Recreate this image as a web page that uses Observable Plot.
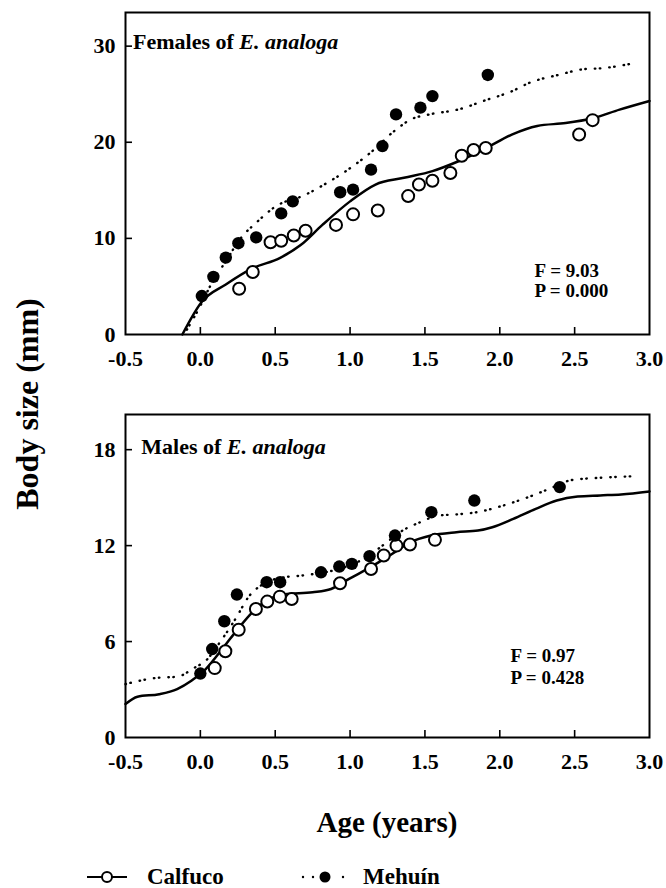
<!DOCTYPE html>
<html><head><meta charset="utf-8">
<script src="https://cdn.jsdelivr.net/npm/d3@7"></script>
<script src="https://cdn.jsdelivr.net/npm/@observablehq/plot@0.6"></script>
<style>
body{margin:0;background:#fff;}
#fig{position:relative;width:666px;height:888px;background:#fff;}
#fig > svg{position:absolute;left:0;}
</style></head><body><div id="fig"></div>
<script>
// ---------- data ----------
const xTicks = [-0.5, 0, 0.5, 1, 1.5, 2, 2.5, 3];
const femYTicks = [0, 10, 20, 30];
const maleYTicks = [0, 6, 12, 18];
const legendLabels = ["Calfuco", "Mehuín"];

// Females: [age, body size]
const femMehuinPts = [[0.01,4.0],[0.087,6.0],[0.17,8.0],[0.254,9.5],[0.373,10.1],[0.54,12.6],[0.617,13.85],[0.934,14.8],[1.02,15.07],[1.14,17.15],[1.216,19.6],[1.307,22.9],[1.47,23.6],[1.55,24.8],[1.92,27.0]];
const femCalfucoPts = [[0.259,4.76],[0.35,6.5],[0.469,9.6],[0.54,9.76],[0.624,10.3],[0.703,10.8],[0.906,11.4],[1.02,12.5],[1.185,12.9],[1.388,14.4],[1.46,15.6],[1.55,16.0],[1.67,16.8],[1.746,18.6],[1.825,19.2],[1.906,19.4],[2.53,20.8],[2.62,22.3]];
const femCalfucoCurve = [[-0.12,0],[0.01,3.4],[0.17,5.2],[0.35,6.9],[0.53,7.95],[0.67,9.3],[0.815,11.4],[1.0,13.85],[1.17,15.6],[1.36,16.3],[1.55,17.0],[1.72,18.0],[1.91,19.4],[2.08,20.8],[2.25,21.7],[2.44,22.0],[2.62,22.5],[2.8,23.4],[3.0,24.3]];
const femMehuinCurve = [[-0.09,0.5],[-0.02,2.4],[0.096,5.9],[0.17,7.6],[0.254,9.7],[0.385,11.8],[0.5,13.3],[0.696,14.5],[0.86,15.9],[1.0,17.3],[1.15,19.1],[1.29,21.1],[1.41,22.4],[1.53,22.9],[1.72,23.4],[1.91,24.4],[2.08,25.3],[2.2,26.2],[2.39,27.0],[2.56,27.6],[2.68,27.7],[2.92,28.3]];

// Males: [age, body size]
const maleMehuinPts = [[0.0,4.0],[0.079,5.53],[0.16,7.27],[0.244,8.94],[0.443,9.71],[0.533,9.71],[0.806,10.33],[0.928,10.69],[1.012,10.86],[1.13,11.34],[1.30,12.63],[1.543,14.09],[1.83,14.82],[2.40,15.66]];
const maleCalfucoPts = [[0.096,4.34],[0.167,5.39],[0.256,6.74],[0.371,8.04],[0.447,8.5],[0.531,8.81],[0.61,8.66],[0.933,9.65],[1.14,10.54],[1.225,11.38],[1.31,12.0],[1.40,12.07],[1.567,12.36]];
const maleCalfucoCurve = [[-0.5,2.09],[-0.42,2.55],[-0.275,2.71],[-0.155,3.03],[-0.06,3.55],[0.036,4.28],[0.155,5.64],[0.25,6.78],[0.347,7.83],[0.443,8.56],[0.56,8.94],[0.75,9.08],[0.873,9.29],[0.993,9.92],[1.136,10.65],[1.28,11.48],[1.40,12.2],[1.54,12.63],[1.71,12.84],[1.854,12.94],[1.95,13.15],[2.09,13.67],[2.24,14.3],[2.38,14.82],[2.52,15.07],[2.67,15.14],[2.81,15.2],[3.0,15.39]];
const maleMehuinCurve = [[-0.5,3.34],[-0.3,3.72],[-0.155,3.8],[-0.036,4.38],[0.036,4.8],[0.13,5.95],[0.24,7.5],[0.32,8.77],[0.443,9.71],[0.56,10.02],[0.68,10.13],[0.993,10.75],[1.11,11.27],[1.23,12.1],[1.35,12.94],[1.47,13.47],[1.59,13.88],[1.71,13.95],[1.854,14.1],[2.02,14.5],[2.19,15.03],[2.33,15.55],[2.48,16.1],[2.67,16.24],[2.9,16.34]];

const femStats = ["F = 9.03", "P = 0.000"];
const maleStats = ["F = 0.97", "P = 0.428"];

// ---------- drawing ----------
const FONT = "'Liberation Serif', 'Times New Roman', serif";
const W = 666, mL = 125, mR = 17;
const DOTTED = {stroke: "black", strokeWidth: 2.4, strokeLinecap: "round", strokeDasharray: "0.5,4.5,0.5,9"};

function panel(o) {
  const frameH = o.height - o.marginTop - o.marginBottom;
  const frameW = W - mL - mR;
  const innerX = xTicks.filter(d => d > -0.5 && d < 3);
  const innerY = o.yTicks.filter(d => d > 0 && d < o.yDomain[1]);
  const titleStr = o.titleA + o.titleB;
  const svg = Plot.plot({
    width: W, height: o.height,
    marginLeft: mL, marginRight: mR, marginTop: o.marginTop, marginBottom: o.marginBottom,
    style: {fontFamily: FONT, fontWeight: "bold", fontSize: "22px", background: "white", color: "black", overflow: "visible"},
    x: {domain: [-0.5, 3]},
    y: {domain: o.yDomain},
    marks: [
      Plot.axisX(xTicks, {tickSize: 0, tickPadding: 16, tickFormat: d => d.toFixed(1), label: null}),
      Plot.axisY(o.yTicks, {tickSize: 0, tickPadding: 10, label: null}),
      Plot.ruleX(innerX, {x: d => d, insetTop: frameH - 7, strokeWidth: 1.6}),
      Plot.ruleY(innerY, {y: d => d, insetRight: frameW - 7, strokeWidth: 1.6}),
      Plot.line(o.mehCurve, {x: d => d[0], y: d => d[1], curve: "monotone-x", ...DOTTED}),
      Plot.line(o.calCurve, {x: d => d[0], y: d => d[1], curve: "monotone-x", stroke: "black", strokeWidth: 2.5}),
      Plot.dot(o.calPts, {x: d => d[0], y: d => d[1], r: 6, fill: "white", stroke: "black", strokeWidth: 2}),
      Plot.dot(o.mehPts, {x: d => d[0], y: d => d[1], r: 6.2, fill: "black", stroke: "none"}),
      Plot.frame({stroke: "black", strokeWidth: 2}),
      Plot.text([titleStr], {frameAnchor: "top-left", textAnchor: "start", lineAnchor: "bottom", dx: o.titleDx, dy: o.titleDy, fontSize: 22, fontWeight: "bold"}),
      Plot.text([o.stats.join("\n")], {frameAnchor: "bottom-left", textAnchor: "start", lineAnchor: "bottom", dx: o.statsDx, dy: o.statsDy, fontSize: 19, fontWeight: "bold", lineHeight: o.statsLH})
    ]
  });
  // mixed roman / italic title
  d3.select(svg).selectAll("text").filter(function() { return this.textContent === titleStr; })
    .each(function() {
      const t = d3.select(this);
      t.text(null);
      t.append("tspan").text(o.titleA);
      t.append("tspan").attr("font-style", "italic").text(o.titleB);
    });
  svg.style.top = o.top + "px";
  return svg;
}

const fig = document.getElementById("fig");

fig.appendChild(panel({
  top: 0, height: 380, marginTop: 12, marginBottom: 46,
  yDomain: [0, 33.5], yTicks: femYTicks,
  calPts: femCalfucoPts, mehPts: femMehuinPts, calCurve: femCalfucoCurve, mehCurve: femMehuinCurve,
  titleA: "Females of ", titleB: "E. analoga", titleDx: 7.5, titleDy: 36,
  stats: femStats, statsDx: 409, statsDy: -37.3, statsLH: 1.05
}));

fig.appendChild(panel({
  top: 380, height: 410, marginTop: 34, marginBottom: 53,
  yDomain: [0, 20.2], yTicks: maleYTicks,
  calPts: maleCalfucoPts, mehPts: maleMehuinPts, calCurve: maleCalfucoCurve, mehCurve: maleMehuinCurve,
  titleA: "Males of ", titleB: "E. analoga", titleDx: 15.8, titleDy: 39.3,
  stats: maleStats, statsDx: 385, statsDy: -53.7, statsLH: 1.14
}));

// overlay: shared axis titles and legend
const ov = d3.select(fig).append("svg")
  .attr("width", W).attr("height", 888)
  .style("top", "0px")
  .attr("font-family", FONT).attr("font-weight", "bold");

ov.append("text")
  .attr("transform", "translate(38,404) rotate(-90)")
  .attr("text-anchor", "middle").attr("font-size", 32)
  .text("Body size (mm)");

ov.append("text")
  .attr("x", 387).attr("y", 832)
  .attr("text-anchor", "middle").attr("font-size", 29)
  .text("Age (years)");

// legend
const lg = ov.append("g");
const ly = 877;
lg.append("line").attr("x1", 87).attr("x2", 127).attr("y1", ly).attr("y2", ly).attr("stroke", "black").attr("stroke-width", 2);
lg.append("circle").attr("cx", 107).attr("cy", ly).attr("r", 5).attr("fill", "white").attr("stroke", "black").attr("stroke-width", 2);
lg.append("text").attr("x", 147).attr("y", ly + 7).attr("font-size", 23).text(legendLabels[0]);
[303, 313, 343].forEach(cx => lg.append("circle").attr("cx", cx).attr("cy", ly).attr("r", 1.2).attr("fill", "black"));
lg.append("circle").attr("cx", 325).attr("cy", ly).attr("r", 5.5).attr("fill", "black");
lg.append("text").attr("x", 363).attr("y", ly + 7).attr("font-size", 23).text(legendLabels[1]);
</script>
</body></html>
